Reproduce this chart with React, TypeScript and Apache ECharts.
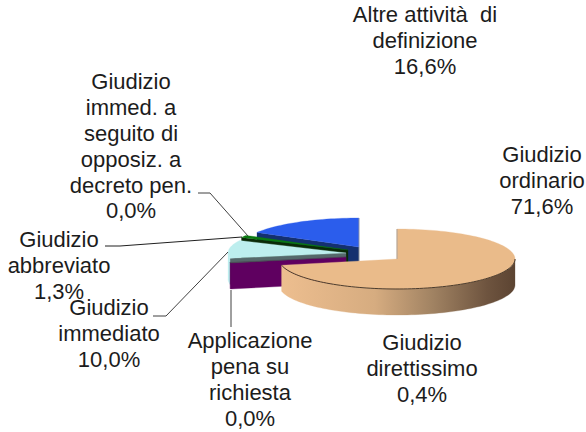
import React, { useEffect, useRef } from "react";
import * as echarts from "echarts";

// Data, clockwise from 12 o'clock
const categories = [
  "Giudizio ordinario",
  "Giudizio direttissimo",
  "Applicazione pena su richiesta",
  "Giudizio immediato",
  "Giudizio abbreviato",
  "Giudizio immed. a seguito di opposiz. a decreto pen.",
  "Altre attività di definizione",
];
const values = [71.6, 0.4, 0.0, 10.0, 1.3, 0.0, 16.6];
const labelLines = [
  ["Giudizio", "ordinario"],
  ["Giudizio", "direttissimo"],
  ["Applicazione", "pena su", "richiesta"],
  ["Giudizio", "immediato"],
  ["Giudizio", "abbreviato"],
  ["Giudizio", "immed. a", "seguito di", "opposiz. a", "decreto pen."],
  ["Altre attività  di", "definizione"],
];

// Styling per slice
const topColors = ["#EABB8A", "#4A4F55", "#5A6A6A", "#BDEEEE", "#0B7A12", "#0B7A12", "#2B5DEC"];
const cutColors = ["#EABB8A", "#5F0060", "#5A6A6A", "#55686A", "#0A2A08", "#0A2A08", "#14306F"];
const wallColors = ["", "#5F0060", "#5A6A6A", "#BDEEEE", "#0A2A08", "#0A2A08", "#14306F"];
const apexes = [[397, 259], [346, 257], [346, 257], [346, 253], [348, 250], [348, 250], [359, 247]];
const layers = [5, 4, 4, 3, 2, 2, 1];
const radiiY = [30, 29, 29, 29, 29, 29, 29];
const RX = 118;
const DEPTH = 26;

const labelBoxes = [
  { cx: 542, y: 155 },
  { cx: 422, y: 343 },
  { cx: 250, y: 341 },
  { cx: 109, y: 308 },
  { cx: 59, y: 240 },
  { cx: 131, y: 82 },
  { cx: 425, y: 15 },
];
const LINE = 25.8;

const leaders = [
  { pts: [[198, 193], [210, 193], [248, 236]], color: "#404040" },
  { pts: [[105, 246], [120, 246], [242, 237]], color: "#202020" },
  { pts: [[153, 316], [166, 316], [228, 252]], color: "#404040" },
  { pts: [[231, 290], [231, 327]], color: "#404040" },
];

const total = values.reduce((a, b) => a + b, 0);
const cumul = values.reduce<number[]>((acc, v) => [...acc, acc[acc.length - 1] + v], [0]);

function pt(i: number, deg: number, dy = 0): number[] {
  const a = (deg * Math.PI) / 180;
  return [apexes[i][0] + RX * Math.sin(a), apexes[i][1] - radiiY[i] * Math.cos(a) + dy];
}
function arc(i: number, from: number, to: number, dy = 0): number[][] {
  const out: number[][] = [];
  const n = Math.max(2, Math.ceil((to - from) / 2));
  for (let k = 0; k <= n; k++) out.push(pt(i, from + ((to - from) * k) / n, dy));
  return out;
}

function renderItem(_params: any, api: any) {
  const i = _params.dataIndex as number;
  const v = api.value(0) as number;
  if (v <= 0) return { type: "group", children: [] };
  const a0 = (cumul[i] / total) * 360;
  const a1 = a0 + (v / total) * 360;
  const apex = apexes[i];
  const base = layers[i] * 10;
  const poly = (points: number[][], fill: any, z: number, stroke?: string) => ({
    type: "polygon",
    z2: base + z,
    shape: { points },
    style: { fill, stroke: stroke ?? fill, lineWidth: stroke ? 0.6 : 0.3 },
  });
  const children: any[] = [];
  // cut wall on the slice's front-facing edge
  const p0 = pt(i, a0);
  children.push(
    poly([[apex[0], apex[1]], p0, [p0[0], p0[1] + DEPTH], [apex[0], apex[1] + DEPTH]], cutColors[i], 1),
  );
  // outer wall where the rim faces the viewer
  const wFrom = Math.max(a0, 90);
  const wTo = Math.min(a1, 270);
  if (wTo > wFrom) {
    const fill =
      i === 0
        ? new echarts.graphic.LinearGradient(1, 0, 0, 0, [
            { offset: 0, color: "#5C4432" },
            { offset: 0.12, color: "#6E543F" },
            { offset: 0.35, color: "#A08262" },
            { offset: 0.6, color: "#D6AC80" },
            { offset: 1, color: "#EDBE8F" },
          ])
        : wallColors[i];
    children.push(poly([...arc(i, wFrom, wTo), ...arc(i, wFrom, wTo, DEPTH).reverse()], fill, 2));
  }
  // top face
  children.push(poly([[apex[0], apex[1]], ...arc(i, a0, a1)], topColors[i], 3));
  // rim highlight lines
  if (i === 0) {
    children.push({
      type: "polyline",
      z2: base + 4,
      shape: { points: arc(i, 90, a1) },
      style: { fill: "none", stroke: "#3A2C20", lineWidth: 0.9 },
    });
    children.push({
      type: "polyline",
      z2: base + 4,
      shape: { points: [[apex[0], apex[1] - radiiY[i]], [apex[0], apex[1]]] },
      style: { fill: "none", stroke: "#A0A0A0", lineWidth: 0.8 },
    });
  }
  if (i === 6) {
    children.push({
      type: "polyline",
      z2: base + 4,
      shape: { points: [[apex[0], apex[1] - radiiY[i]], [apex[0], apex[1] + 15]] },
      style: { fill: "none", stroke: "#A0A0A0", lineWidth: 0.8 },
    });
  }
  return { type: "group", children };
}

export default function App() {
  const ref = useRef<HTMLDivElement>(null);
  useEffect(() => {
    const chart = echarts.init(ref.current!, null, { renderer: "svg" });
    const texts = categories.map((_, i) => ({
      type: "text",
      z: 20,
      x: labelBoxes[i].cx,
      y: labelBoxes[i].y - LINE / 2,
      style: {
        text: [...labelLines[i], values[i].toFixed(1).replace(".", ",") + "%"].join("\n"),
        fill: "#1C1C1C",
        font: '22px "Liberation Sans", Arial, sans-serif',
        lineHeight: LINE,
        align: "center",
        verticalAlign: "top",
      },
    }));
    const lines = leaders.map((l) => ({
      type: "polyline",
      z: 10,
      shape: { points: l.pts },
      style: { fill: "none", stroke: l.color, lineWidth: 1 },
    }));
    chart.setOption({
      animation: false,
      backgroundColor: "#FFFFFF",
      graphic: [...lines, ...texts],
      series: [
        {
          type: "custom",
          coordinateSystem: "none",
          silent: true,
          renderItem,
          data: values.map((v, i) => ({ name: categories[i], value: [v] })),
        },
      ],
    });
    return () => chart.dispose();
  }, []);
  return (
    <div
      ref={ref}
      style={{ position: "fixed", left: 0, top: 0, width: 586, height: 432 }}
    />
  );
}
